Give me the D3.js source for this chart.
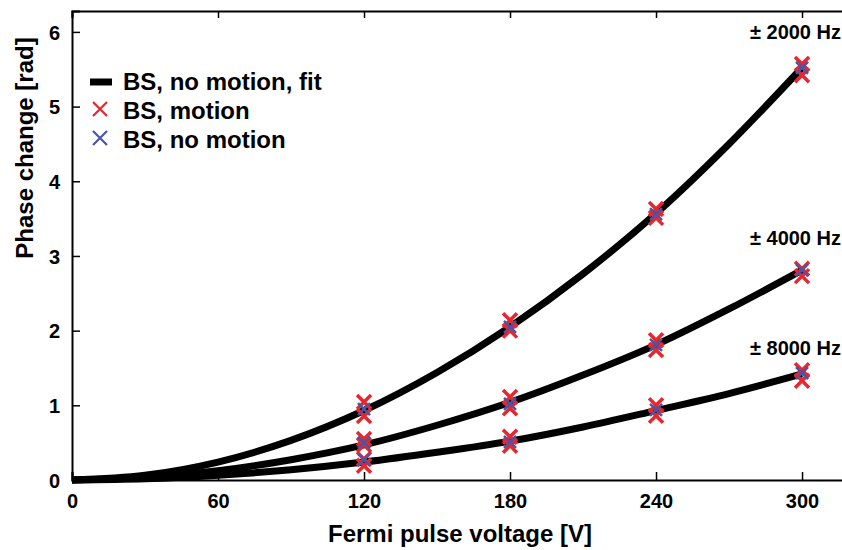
<!DOCTYPE html>
<html><head><meta charset="utf-8">
<script src="https://cdn.jsdelivr.net/npm/d3@7/dist/d3.min.js"></script>
<style>body{margin:0;background:#fff}svg{display:block}text{font-family:"Liberation Sans",Arial,sans-serif;font-weight:bold;fill:#000}</style>
</head><body><svg id="c" width="842" height="550"></svg>
<script>
// ---- data ----
const xTicks = [0, 60, 120, 180, 240, 300];
const yTicks = [0, 1, 2, 3, 4, 5, 6];
const voltages = [120, 180, 240, 300];
const fitVoltages = [0, 30, 60, 90, 120, 150, 180, 210, 240, 270, 300];
const fit2000 = [0, 0.063, 0.24, 0.53, 0.93, 1.44, 2.05, 2.76, 3.57, 4.50, 5.52];
const fit4000 = [0, 0.032, 0.124, 0.272, 0.47, 0.733, 1.04, 1.405, 1.81, 2.29, 2.81];
const fit8000 = [0, 0.016, 0.063, 0.137, 0.24, 0.371, 0.52, 0.71, 0.93, 1.157, 1.42];
const motion2000 = [[1.045, 0.857], [2.14, 2.00], [3.63, 3.51], [5.57, 5.42]];
const motion4000 = [[0.55, 0.47], [1.11, 0.96], [1.87, 1.74], [2.83, 2.73]];
const motion8000 = [[0.28, 0.19], [0.58, 0.46], [1.00, 0.86], [1.47, 1.33]];
const noMotion2000 = [0.95, 2.05, 3.56, 5.52];
const noMotion4000 = [0.50, 1.02, 1.81, 2.81];
const noMotion8000 = [0.27, 0.51, 0.94, 1.43];
const freqLabels = ["± 2000 Hz", "± 4000 Hz", "± 8000 Hz"];
const freqLabelY = [5.9, 3.15, 1.68];
const legendLabels = ["BS, no motion, fit", "BS, motion", "BS, no motion"];
const xTitle = "Fermi pulse voltage [V]";
const yTitle = "Phase change [rad]";

// ---- layout ----
const svg = d3.select("#c");
const x = d3.scaleLinear().domain([0, 320]).range([72, 850.7]);
const y = d3.scaleLinear().domain([0, 6.28]).range([480, 11]);
const RED = "#e8262d", BLUE = "#4a55a8";

// fit lines
const line = d3.line().x(d => x(d[0])).y(d => y(d[1])).curve(d3.curveMonotoneX);
[fit2000, fit4000, fit8000].forEach(f => {
  svg.append("path").datum(fitVoltages.map((v, i) => [v, f[i]]))
    .attr("d", line).attr("fill", "none").attr("stroke", "#000")
    .attr("stroke-width", 7).attr("stroke-linecap", "butt");
});

// axes frame
const gx = svg.append("g").attr("transform", `translate(0,${y(0)})`)
  .call(d3.axisBottom(x).tickValues(xTicks).tickSize(-8).tickPadding(14).tickFormat(d3.format("d")));
const gxt = svg.append("g").attr("transform", `translate(0,${y(6.28)})`)
  .call(d3.axisTop(x).tickValues(xTicks).tickSize(-7).tickFormat(""));
const gy = svg.append("g").attr("transform", `translate(${x(0)},0)`)
  .call(d3.axisLeft(y).tickValues(yTicks).tickSize(-8).tickPadding(12).tickFormat(d3.format("d")));
const gyr = svg.append("g").attr("transform", `translate(${x(320)},0)`)
  .call(d3.axisRight(y).tickValues(yTicks).tickSize(-8).tickFormat(""));
[gx, gxt, gy, gyr].forEach(g => {
  g.select(".domain").attr("stroke", "#000").attr("stroke-width", 2);
  g.selectAll(".tick line").attr("stroke", "#000").attr("stroke-width", 1.5);
  g.selectAll("text").style("font-size", "20px").style("font-family", '"Liberation Sans",Arial,sans-serif').style("font-weight", "bold").attr("fill", "#000");
});
gy.selectAll("text").attr("dy", "0.36em");

// markers
function cross(g, cx, cy, r, color, sw) {
  g.append("path").attr("d", `M${cx - r},${cy - r}L${cx + r},${cy + r}M${cx - r},${cy + r}L${cx + r},${cy - r}`)
    .attr("stroke", color).attr("stroke-width", sw).attr("fill", "none");
}
const mg = svg.append("g");
[motion2000, motion4000, motion8000].forEach(m => {
  m.forEach((pair, i) => pair.forEach(v => cross(mg, x(voltages[i]), y(v), 7, RED, 3.5)));
});
[noMotion2000, noMotion4000, noMotion8000].forEach(m => {
  m.forEach((v, i) => cross(mg, x(voltages[i]), y(v), 6, BLUE, 2.5));
});

// frequency labels
freqLabels.forEach((t, i) => {
  svg.append("text").attr("x", 841).attr("y", y(freqLabelY[i]) ).attr("text-anchor", "end")
    .style("font-size", "20px").text(t);
});

// legend
const lg = svg.append("g");
lg.append("line").attr("x1", 90).attr("x2", 112).attr("y1", 82).attr("y2", 82).attr("stroke", "#000").attr("stroke-width", 7);
cross(lg, 100, 109, 7, RED, 2.2);
cross(lg, 100, 138, 7, BLUE, 2.2);
legendLabels.forEach((t, i) => {
  lg.append("text").attr("x", 123).attr("y", 90 + i * 29).style("font-size", "24px").text(t);
});

// titles
svg.append("text").attr("x", 460).attr("y", 542).attr("text-anchor", "middle").style("font-size", "24px").text(xTitle);
svg.append("text").attr("transform", "translate(33,148) rotate(-90)").attr("text-anchor", "middle").style("font-size", "24px").text(yTitle);
</script></body></html>
